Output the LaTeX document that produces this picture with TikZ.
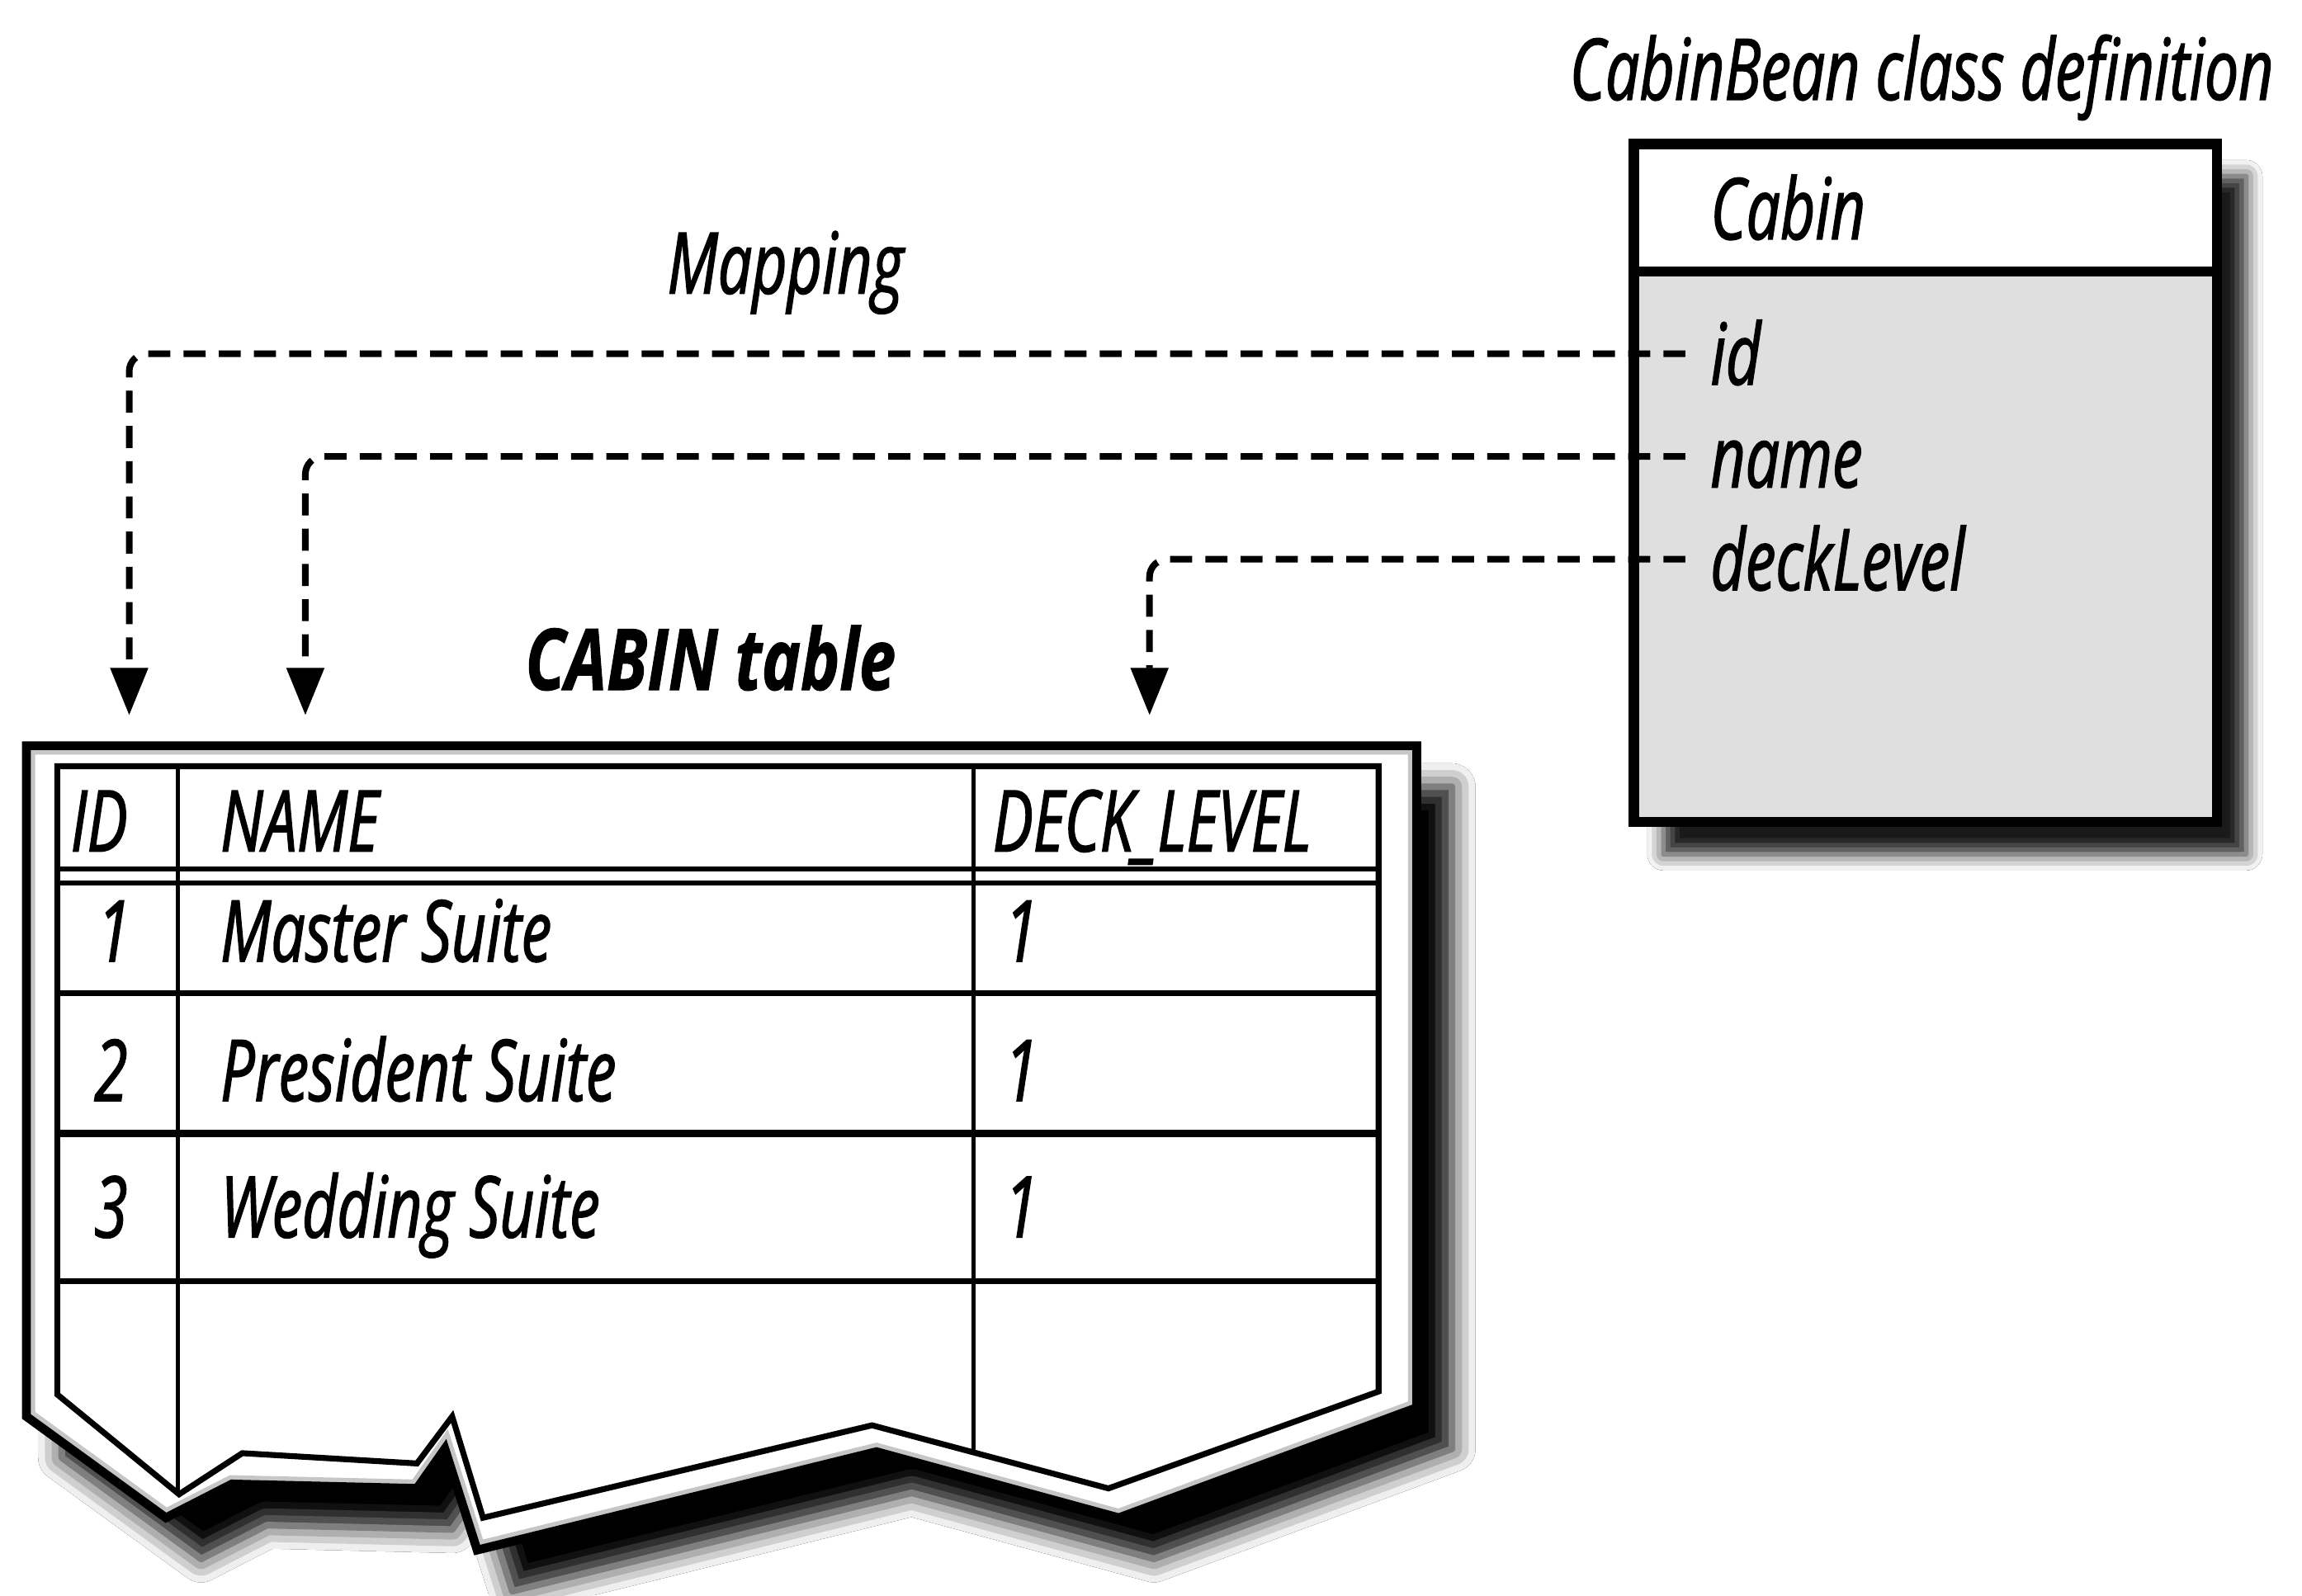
\documentclass[tikz,border=0pt]{standalone}
\usepackage{fontspec}
\newfontfamily\diagfont{Open Sans}[FakeStretch=0.71, FakeBold=1.4]
\newfontfamily\diagboldfont{Open Sans}[FakeStretch=0.77, FakeBold=1]
\usetikzlibrary{arrows.meta,shadows.blur}

\tikzset{
  txt/.style={font=\diagfont\itshape\fontsize{58}{60}\selectfont, inner sep=0pt, anchor=base west},
  boldtxt/.style={font=\diagboldfont\bfseries\itshape\fontsize{58}{60}\selectfont, inner sep=0pt, anchor=base},
  attr/.style={txt, text height=42pt, text depth=0pt},
  mapline/.style={line width=4.5pt, dash pattern=on 15pt off 9pt, rounded corners=12pt,
    -{Triangle[width=26pt,length=32pt,line width=0.5pt,fill=black]}},
  classshadow/.style={blur shadow={shadow xshift=20pt, shadow yshift=-22pt,
    shadow blur radius=11pt, shadow opacity=90}},
  tableshadow/.style={blur shadow={shadow xshift=24pt, shadow yshift=-28pt,
    shadow blur radius=16pt, shadow opacity=100}},
  grid/.style={line width=4pt},
  thingrid/.style={line width=3pt},
}

\begin{document}
\begin{tikzpicture}[x=1pt,y=-1pt]
  \useasboundingbox[fill=white] (0,0) rectangle (1568,1087);

  % ---- class box -------------------------------------------------------
  \path[classshadow, fill=gray!25] (1113,98) rectangle (1510,560);
  \fill[white] (1113,98) rectangle (1510,185);
  \draw[line width=7pt] (1113,98) rectangle (1510,560);
  \draw[line width=7pt] (1113,185) -- (1510,185);

  \node[txt, anchor=base] (title) at (1309,68) {CabinBean class definition};
  \node[txt] (cabin) at (1165,163) {Cabin};
  \node[attr] (aid) at (1165,262) {id};
  \node[attr] (aname) at (1165,332) {name};
  \node[attr] (adeck) at (1165,402) {deckLevel};

  % ---- table outline with torn bottom ---------------------------------
  \def\outerpath{(18,508) -- (965,508) -- (965,959) -- (762,1034) -- (597,989)
    -- (325,1056) -- (303,987) -- (284,1014) -- (158,1011) -- (113,1034)
    -- (18,965) -- cycle}
  \path[tableshadow, fill=white] \outerpath;
  \begin{scope}
    \clip \outerpath;
    \draw[line width=12pt, gray!45, line join=miter] \outerpath;
  \end{scope}
  \draw[line width=6pt, line join=miter] \outerpath;

  \fill[white] (39,522) -- (939,522) -- (939,948) -- (755,1014) -- (594,971)
    -- (329,1034) -- (308,965) -- (284,997) -- (165,990) -- (122,1018)
    -- (39,950) -- cycle;
  \draw[grid, line join=miter] (39,522) -- (939,522) -- (939,948) -- (755,1014)
    -- (594,971) -- (329,1034) -- (308,965) -- (284,997) -- (165,990)
    -- (122,1018) -- (39,950) -- cycle;

  % rows and columns
  \draw[thingrid] (39,592) -- (939,592);
  \draw[thingrid] (39,601.5) -- (939,601.5);
  \draw[grid] (39,676.5) -- (939,676.5);
  \draw[grid, line width=5pt] (39,772) -- (939,772);
  \draw[grid] (39,873) -- (939,873);
  \draw[thingrid] (121,522) -- (121,1017);
  \draw[thingrid] (663,522) -- (663,989);

  % table contents
  \node[txt] (hid) at (48,580) {ID};
  \node[txt] (hname) at (150,580) {NAME};
  \node[txt] (hdeck) at (676,580) {DECK\_LEVEL};
  \node[txt] (r1id) at (66,655) {1};
  \node[txt] (r1name) at (150,655) {Master Suite};
  \node[txt] (r1deck) at (684,655) {1};
  \node[txt] (r2id) at (64,750) {2};
  \node[txt] (r2name) at (150,750) {President Suite};
  \node[txt] (r2deck) at (684,750) {1};
  \node[txt] (r3id) at (64,843) {3};
  \node[txt] (r3name) at (150,843) {Wedding Suite};
  \node[txt] (r3deck) at (684,843) {1};

  \node[boldtxt] (tcap) at (484,470) {CABIN table};
  \node[txt, anchor=base] (maplbl) at (535,200) {Mapping};

  % ---- mapping connectors ---------------------------------------------
  \coordinate (tipid) at (88,487);
  \coordinate (tipname) at (208,487);
  \coordinate (tipdeck) at (783,487);
  \draw[mapline] ([xshift=-17pt]aid.west) -| (tipid);
  \draw[mapline] ([xshift=-17pt]aname.west) -| (tipname);
  \draw[mapline] ([xshift=-17pt]adeck.west) -| (tipdeck);
\end{tikzpicture}
\end{document}
